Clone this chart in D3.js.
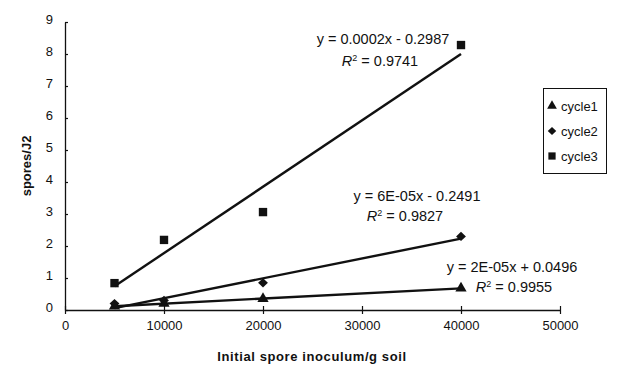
<!DOCTYPE html>
<html><head><meta charset="utf-8">
<script src="https://cdn.jsdelivr.net/npm/d3@7"></script>
<style>body{margin:0;background:#fff}svg{display:block}text{font-family:"Liberation Sans",Arial,sans-serif;fill:#111}</style>
</head><body><svg id="c" width="618" height="367"></svg>
<script>
const inoculum = [5000, 10000, 20000, 40000];
const cycle1 = [0.12, 0.2, 0.35, 0.68];
const cycle2 = [0.2, 0.3, 0.85, 2.3];
const cycle3 = [0.84, 2.19, 3.06, 8.28];
const seriesNames = ["cycle1", "cycle2", "cycle3"];
const equations = ["y = 2E-05x + 0.0496", "y = 6E-05x - 0.2491", "y = 0.0002x - 0.2987"];
const r2 = ["0.9955", "0.9827", "0.9741"];
const xTicks = [0, 10000, 20000, 30000, 40000, 50000];
const yTicks = [0, 1, 2, 3, 4, 5, 6, 7, 8, 9];

const svg = d3.select("#c");
const x = d3.scaleLinear().domain([0, 50000]).range([65, 560]);
const y = d3.scaleLinear().domain([0, 9]).range([310, 22]);

const series = [cycle1, cycle2, cycle3];
const wideDiamond = { draw(ctx, size) { const r = Math.sqrt(size) / 2 * 1.1; ctx.moveTo(0, -r*0.95); ctx.lineTo(r, 0); ctx.lineTo(0, r*0.95); ctx.lineTo(-r, 0); ctx.closePath(); } };
const symbols = [d3.symbolTriangle, wideDiamond, d3.symbolSquare];
const sizes = [55, 80, 70];

// axes
const xAxis = svg.append("g").attr("transform", `translate(0,${y(0)})`)
  .call(d3.axisBottom(x).tickValues(xTicks).tickFormat(d3.format("d")).tickSizeInner(4).tickSizeOuter(0).tickPadding(7));
xAxis.selectAll(".tick line").attr("y1", -4);
const yAxis = svg.append("g").attr("transform", `translate(${x(0)},0)`)
  .call(d3.axisLeft(y).tickValues(yTicks).tickSizeInner(3).tickSizeOuter(0).tickPadding(9));
yAxis.selectAll(".tick line").attr("x1", 3).attr("x2", 0);
yAxis.selectAll(".tick text").attr("dy", "0.15em");
svg.selectAll(".domain").attr("stroke", "#111").attr("stroke-width", 1.3);
svg.selectAll(".tick line").attr("stroke", "#111").attr("stroke-width", 1.2);
svg.selectAll(".tick text").attr("font-size", 13).attr("font-family", "Liberation Sans, Arial").attr("fill", "#111");

// axis titles
svg.append("text").attr("x", 312).attr("y", 361).attr("text-anchor", "middle")
  .attr("font-size", 13).attr("font-weight", "bold").attr("letter-spacing", 0.6).text("Initial spore inoculum/g soil");
svg.append("text").attr("transform", `translate(31,${(y(0)+y(9))/2}) rotate(-90)`).attr("text-anchor", "middle")
  .attr("font-size", 13).attr("font-weight", "bold").text("spores/J2");

// trend lines (least squares)
function fit(xs, ys) {
  const mx = d3.mean(xs), my = d3.mean(ys);
  const sxy = d3.sum(xs, (v, i) => (v - mx) * (ys[i] - my));
  const sxx = d3.sum(xs, v => (v - mx) ** 2);
  const b = sxy / sxx; return [b, my - b * mx];
}
const line = d3.line().x(d => x(d[0])).y(d => y(d[1]));
series.forEach(s => {
  const [b, a] = fit(inoculum, s);
  const ext = d3.extent(inoculum);
  svg.append("path").attr("d", line(ext.map(v => [v, a + b * v])))
    .attr("fill", "none").attr("stroke", "#111").attr("stroke-width", 2.4);
});

// markers
series.forEach((s, k) => {
  svg.append("g").selectAll("path").data(s).join("path")
    .attr("transform", (d, i) => `translate(${x(inoculum[i])},${y(d)})`)
    .attr("d", d3.symbol(symbols[k], sizes[k])).attr("fill", "#111");
});

// equation labels
const eqPos = [[512, 272, 514, 292], [417, 201, 405, 221], [383, 44, 380, 66]];
equations.forEach((e, k) => {
  const p = eqPos[k];
  svg.append("text").attr("x", p[0]).attr("y", p[1]).attr("text-anchor", "middle").attr("font-size", 14.5).text(e);
  const t = svg.append("text").attr("x", p[2]).attr("y", p[3]).attr("text-anchor", "middle").attr("font-size", 14.5);
  t.append("tspan").attr("font-style", "italic").text("R");
  t.append("tspan").attr("font-size", 9).attr("dy", -5).text("2");
  t.append("tspan").attr("dy", 5).text(" = " + r2[k]);
});

// legend
const lg = svg.append("g");
lg.append("rect").attr("x", 543.5).attr("y", 88.5).attr("width", 63).attr("height", 85)
  .attr("fill", "#fff").attr("stroke", "#111").attr("stroke-width", 1);
seriesNames.forEach((n, k) => {
  const cy = 106 + k * 25;
  lg.append("path").attr("transform", `translate(552,${cy})`).attr("d", d3.symbol(symbols[k], sizes[k] * 0.75)).attr("fill", "#111");
  lg.append("text").attr("x", 561).attr("y", cy + 4.5).attr("font-size", 13).text(n);
});
</script></body></html>
